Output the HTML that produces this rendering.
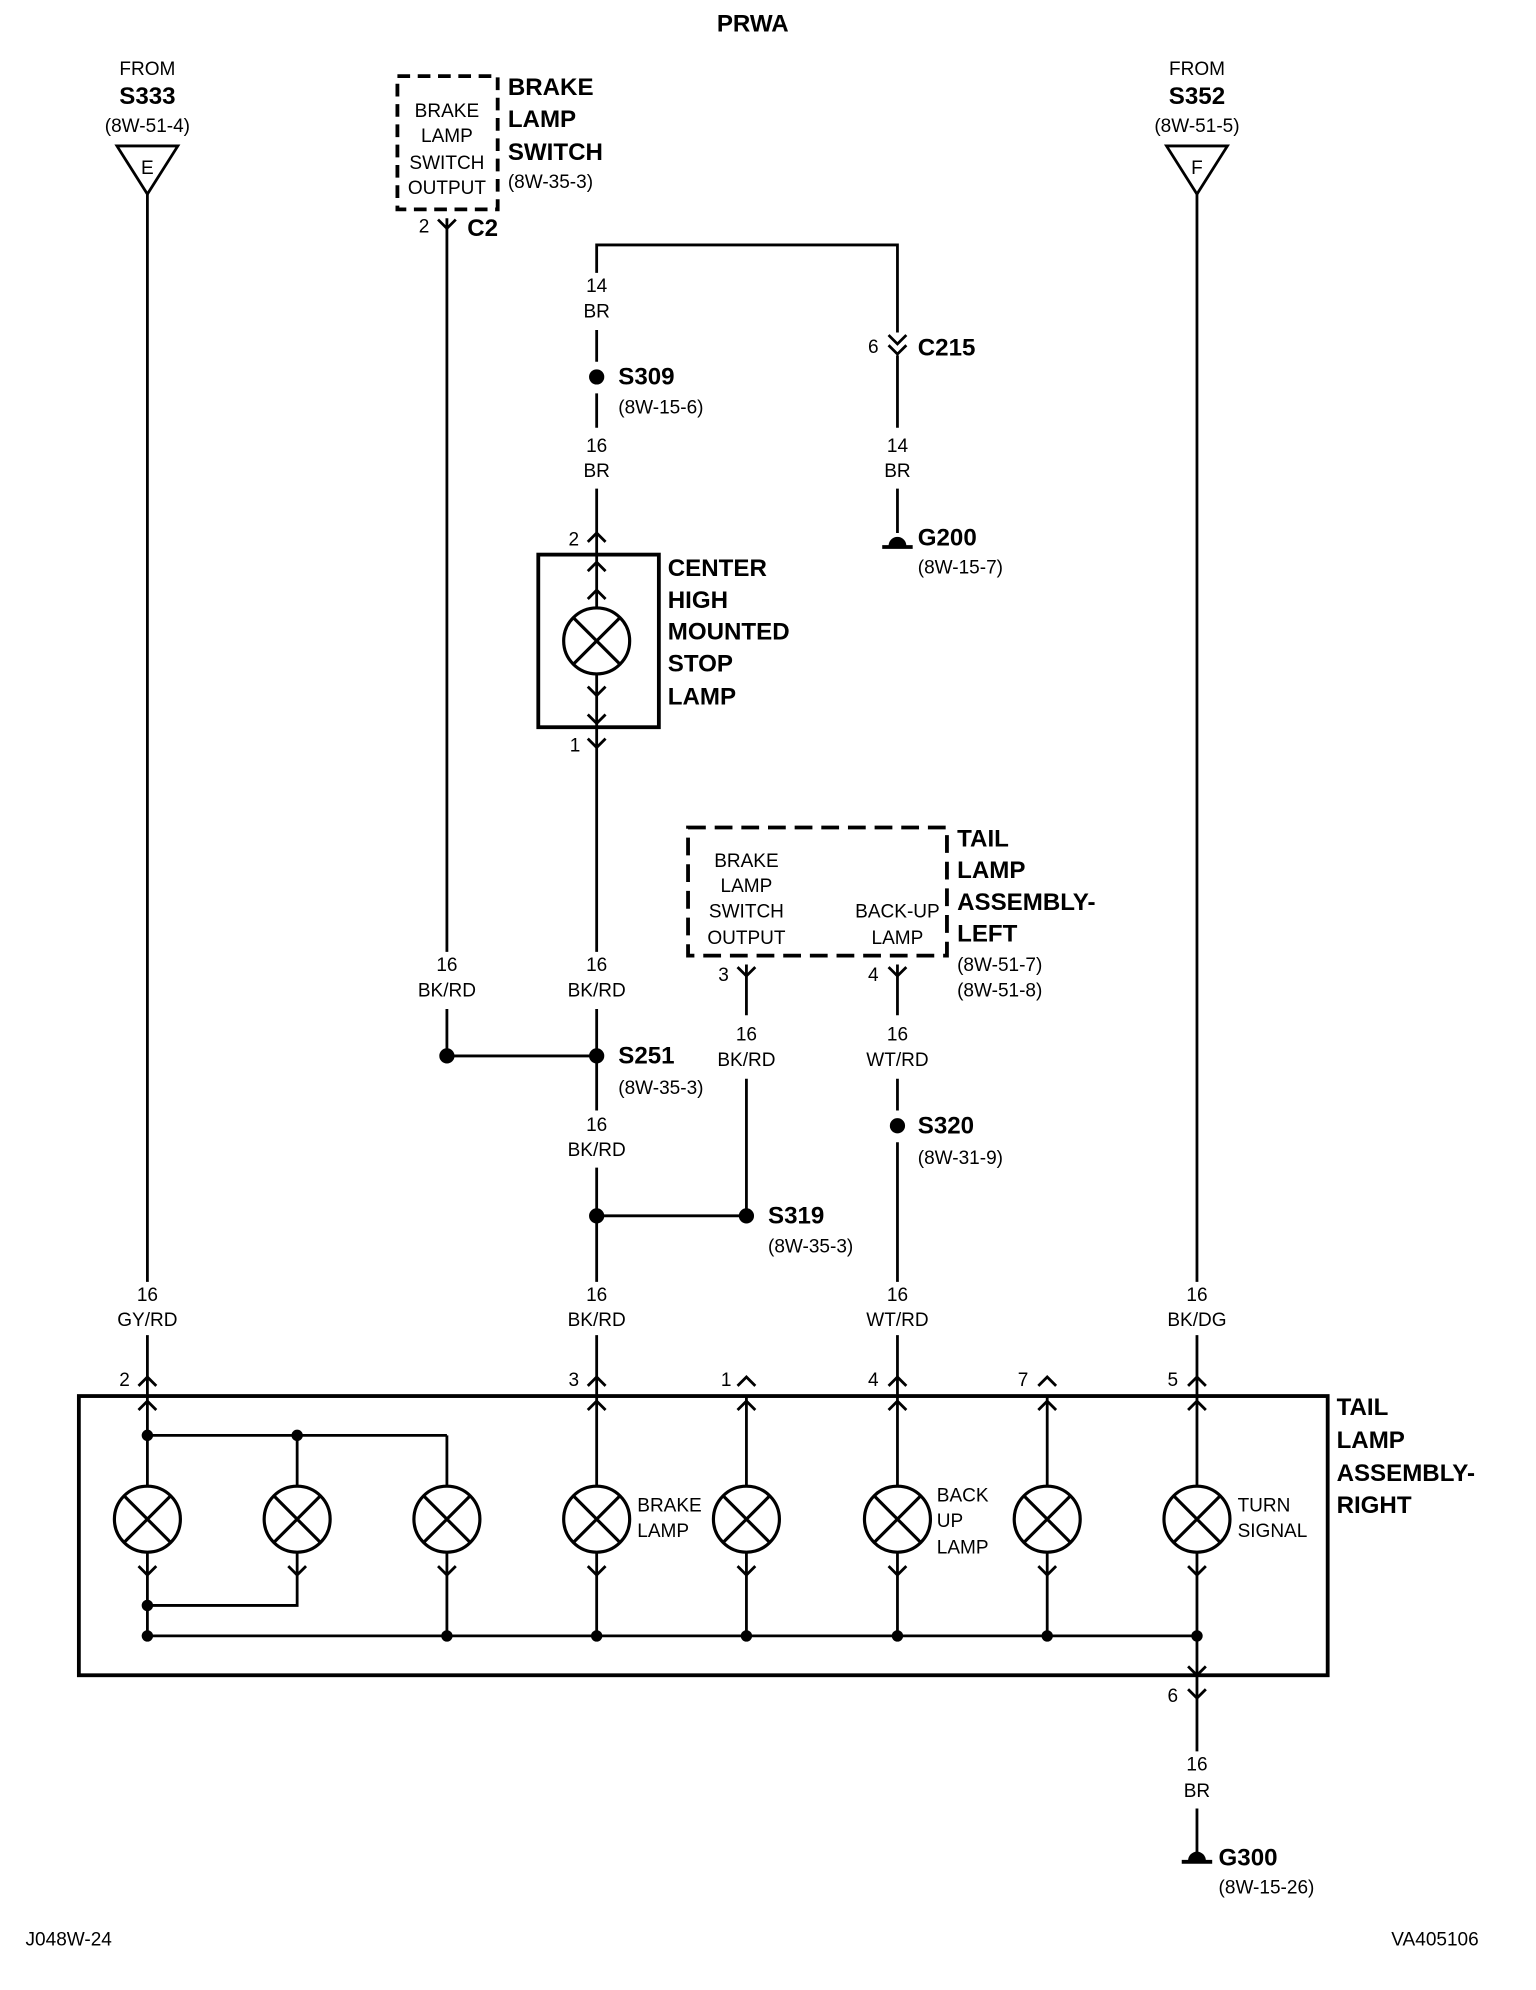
<!DOCTYPE html>
<html><head><meta charset="utf-8"><style>
html,body{margin:0;padding:0;background:#fff;}
svg{display:block}
text{font-family:"Liberation Sans",sans-serif;fill:#000}
.s{font-size:15px}
.b{font-size:19px;font-weight:bold}
.m{text-anchor:middle}
</style></head><body>
<svg width="1536" height="1990" viewBox="0 0 1210 1568" xmlns="http://www.w3.org/2000/svg">
<defs>
<g id="lamp"><circle r="26" fill="#fff" stroke="#000" stroke-width="2.5"/><path d="M-18,-18L18,18M18,-18L-18,18" stroke="#000" stroke-width="2.5"/></g>
<path id="up" d="M-7,7L0,0L7,7" fill="none" stroke="#000" stroke-width="2.2"/>
<path id="dn" d="M-7,-7L0,0L7,-7" fill="none" stroke="#000" stroke-width="2.2"/>
</defs>
<g stroke="#000" stroke-width="2.2" fill="none">
<path d="M92,115H140L116,153Z"/><path d="M919,115H967L943,153Z"/>
<path d="M116,153V1010M116,1052V1100"/>
<path d="M943,153V1010M943,1052V1100"/>
<rect x="313" y="60" width="79" height="105" stroke-dasharray="10,6" stroke-width="3"/>
<path d="M352,172V750M352,795V832"/>
<path d="M470,215V193H707V262M470,260V285M470,310V337M470,385V437"/>
<path d="M707,280V337M707,385V420"/>
<path d="M695,431H719" stroke-width="3"/>
<rect x="424" y="437" width="95" height="136" stroke-width="3"/>
<path d="M470,437V573M470,573V750M470,795V875M470,920V1010M470,1052V1100"/>
<path d="M352,832H470M470,958H588"/>
<rect x="542" y="652" width="204" height="101" stroke-dasharray="14,7" stroke-width="3"/>
<path d="M588,760V800M588,850V958"/>
<path d="M707,760V800M707,850V875M707,900V1010M707,1052V1100"/>
<rect x="62" y="1100" width="984" height="220" stroke-width="3"/>
<path d="M116,1100V1289M116,1131H352M234,1131V1171M352,1131V1171"/>
<path d="M470,1100V1171M588,1100V1171M707,1100V1171M825,1100V1171M943,1100V1171"/>
<path d="M234,1223V1265H116M352,1223V1289M470,1223V1289M588,1223V1289M707,1223V1289M825,1223V1289M943,1223V1345"/>
<path d="M116,1289H943"/>
<path d="M943,1345V1380M943,1425V1460"/>
<path d="M931,1467H955" stroke-width="3"/>
</g>
<path d="M700,430A7,7 0 0 1 714,430Z" fill="#000"/>
<path d="M936,1466A7,7 0 0 1 950,1466Z" fill="#000"/>
<g fill="#000">
<circle cx="470" cy="297" r="6"/><circle cx="352" cy="832" r="6"/><circle cx="470" cy="832" r="6"/>
<circle cx="470" cy="958" r="6"/><circle cx="588" cy="958" r="6"/><circle cx="707" cy="887" r="6"/>
<circle cx="116" cy="1131" r="4.5"/><circle cx="234" cy="1131" r="4.5"/><circle cx="116" cy="1265" r="4.5"/>
<circle cx="116" cy="1289" r="4.5"/><circle cx="352" cy="1289" r="4.5"/><circle cx="470" cy="1289" r="4.5"/>
<circle cx="588" cy="1289" r="4.5"/><circle cx="707" cy="1289" r="4.5"/><circle cx="825" cy="1289" r="4.5"/><circle cx="943" cy="1289" r="4.5"/>
</g>
<use href="#dn" x="352" y="180"/>
<use href="#dn" x="707" y="271"/><use href="#dn" x="707" y="279"/>
<use href="#up" x="470" y="420"/><use href="#up" x="470" y="443"/><use href="#up" x="470" y="465"/>
<use href="#dn" x="470" y="548"/><use href="#dn" x="470" y="570"/><use href="#dn" x="470" y="589"/>
<use href="#dn" x="588" y="769"/><use href="#dn" x="707" y="769"/>
<g>
<use href="#up" x="116" y="1085"/><use href="#up" x="470" y="1085"/><use href="#up" x="588" y="1085"/>
<use href="#up" x="707" y="1085"/><use href="#up" x="825" y="1085"/><use href="#up" x="943" y="1085"/>
<use href="#up" x="116" y="1104"/><use href="#up" x="470" y="1104"/><use href="#up" x="588" y="1104"/>
<use href="#up" x="707" y="1104"/><use href="#up" x="825" y="1104"/><use href="#up" x="943" y="1104"/>
<use href="#dn" x="116" y="1241"/><use href="#dn" x="234" y="1241"/><use href="#dn" x="352" y="1241"/><use href="#dn" x="470" y="1241"/>
<use href="#dn" x="588" y="1241"/><use href="#dn" x="707" y="1241"/><use href="#dn" x="825" y="1241"/><use href="#dn" x="943" y="1241"/>
<use href="#dn" x="943" y="1320"/><use href="#dn" x="943" y="1338"/>
</g>
<use href="#lamp" x="470" y="505"/>
<use href="#lamp" x="116" y="1197"/><use href="#lamp" x="234" y="1197"/><use href="#lamp" x="352" y="1197"/><use href="#lamp" x="470" y="1197"/>
<use href="#lamp" x="588" y="1197"/><use href="#lamp" x="707" y="1197"/><use href="#lamp" x="825" y="1197"/><use href="#lamp" x="943" y="1197"/>
<text x="593" y="25" class="b m">PRWA</text>
<text x="116" y="59" class="s m">FROM</text><text x="116" y="82" class="b m">S333</text><text x="116" y="104" class="s m">(8W-51-4)</text>
<text x="116" y="137" class="s m">E</text>
<text x="943" y="59" class="s m">FROM</text><text x="943" y="82" class="b m">S352</text><text x="943" y="104" class="s m">(8W-51-5)</text>
<text x="943" y="137" class="s m">F</text>
<g class="s m"><text x="352" y="92">BRAKE</text><text x="352" y="112">LAMP</text><text x="352" y="133">SWITCH</text><text x="352" y="153">OUTPUT</text></g>
<text x="400" y="75" class="b">BRAKE</text><text x="400" y="100" class="b">LAMP</text><text x="400" y="126" class="b">SWITCH</text><text x="400" y="148" class="s">(8W-35-3)</text>
<text x="334" y="183" class="s m">2</text><text x="368" y="186" class="b">C2</text>
<text x="470" y="230" class="s m">14</text><text x="470" y="250" class="s m">BR</text>
<text x="487" y="303" class="b">S309</text><text x="487" y="326" class="s">(8W-15-6)</text>
<text x="470" y="356" class="s m">16</text><text x="470" y="376" class="s m">BR</text>
<text x="688" y="278" class="s m">6</text><text x="723" y="280" class="b">C215</text>
<text x="707" y="356" class="s m">14</text><text x="707" y="376" class="s m">BR</text>
<text x="723" y="430" class="b">G200</text><text x="723" y="452" class="s">(8W-15-7)</text>
<text x="452" y="430" class="s m">2</text>
<g class="b"><text x="526" y="454">CENTER</text><text x="526" y="479">HIGH</text><text x="526" y="504">MOUNTED</text><text x="526" y="529">STOP</text><text x="526" y="555">LAMP</text></g>
<text x="453" y="592" class="s m">1</text>
<g class="s m"><text x="588" y="683">BRAKE</text><text x="588" y="703">LAMP</text><text x="588" y="723">SWITCH</text><text x="588" y="744">OUTPUT</text>
<text x="707" y="723">BACK-UP</text><text x="707" y="744">LAMP</text></g>
<g class="b"><text x="754" y="667">TAIL</text><text x="754" y="692">LAMP</text><text x="754" y="717">ASSEMBLY-</text><text x="754" y="742">LEFT</text></g>
<text x="754" y="765" class="s">(8W-51-7)</text><text x="754" y="785" class="s">(8W-51-8)</text>
<text x="570" y="773" class="s m">3</text><text x="688" y="773" class="s m">4</text>
<g class="s m">
<text x="352" y="765">16</text><text x="352" y="785">BK/RD</text>
<text x="470" y="765">16</text><text x="470" y="785">BK/RD</text>
<text x="588" y="820">16</text><text x="588" y="840">BK/RD</text>
<text x="707" y="820">16</text><text x="707" y="840">WT/RD</text>
<text x="470" y="891">16</text><text x="470" y="911">BK/RD</text>
<text x="116" y="1025">16</text><text x="116" y="1045">GY/RD</text>
<text x="470" y="1025">16</text><text x="470" y="1045">BK/RD</text>
<text x="707" y="1025">16</text><text x="707" y="1045">WT/RD</text>
<text x="943" y="1025">16</text><text x="943" y="1045">BK/DG</text>
<text x="98" y="1092">2</text><text x="452" y="1092">3</text><text x="572" y="1092">1</text>
<text x="688" y="1092">4</text><text x="806" y="1092">7</text><text x="924" y="1092">5</text>
<text x="924" y="1341">6</text>
<text x="943" y="1395">16</text><text x="943" y="1416">BR</text>
</g>
<text x="487" y="838" class="b">S251</text><text x="487" y="862" class="s">(8W-35-3)</text>
<text x="605" y="964" class="b">S319</text><text x="605" y="987" class="s">(8W-35-3)</text>
<text x="723" y="893" class="b">S320</text><text x="723" y="917" class="s">(8W-31-9)</text>
<g class="s"><text x="502" y="1191">BRAKE</text><text x="502" y="1211">LAMP</text>
<text x="738" y="1183">BACK</text><text x="738" y="1203">UP</text><text x="738" y="1224">LAMP</text>
<text x="975" y="1191">TURN</text><text x="975" y="1211">SIGNAL</text></g>
<g class="b"><text x="1053" y="1115">TAIL</text><text x="1053" y="1141">LAMP</text><text x="1053" y="1167">ASSEMBLY-</text><text x="1053" y="1192">RIGHT</text></g>
<text x="960" y="1470" class="b">G300</text><text x="960" y="1492" class="s">(8W-15-26)</text>
<text x="20" y="1533" class="s">J048W-24</text>
<text x="1165" y="1533" class="s" text-anchor="end">VA405106</text>
</svg>
</body></html>
